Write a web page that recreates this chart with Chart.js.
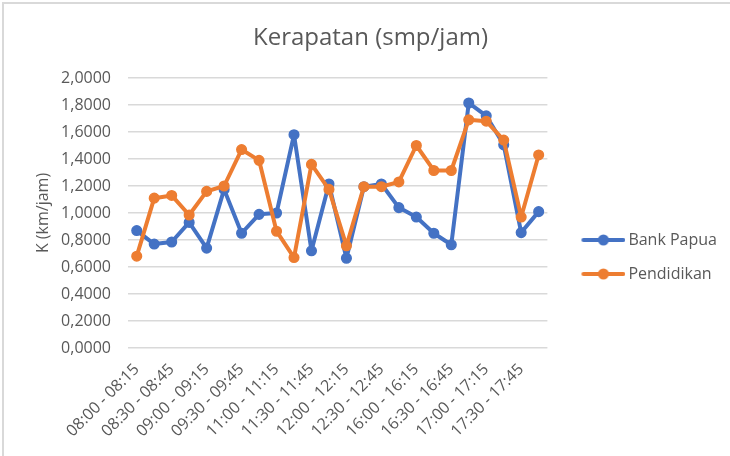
<!DOCTYPE html>
<html>
<head>
<meta charset="utf-8">
<script src="https://cdn.jsdelivr.net/npm/chart.js@4/dist/chart.umd.min.js"></script>
<style>
  html, body { margin: 0; padding: 0; background: #ffffff; }
  #wrap { position: relative; width: 730px; height: 456px; background: #ffffff; }
  #frame { position: absolute; left: 2px; top: 2px; right: -10px; bottom: -10px;
           border-left: 2px solid #d9d9d9; border-top: 2px solid #d9d9d9; pointer-events: none; }
  canvas { position: absolute; left: 0; top: 0; }
</style>
</head>
<body>
<div id="wrap">
  <canvas id="c" width="730" height="456"></canvas>
  <div id="frame"></div>
</div>
<script>
const categories = [
  '08:00 - 08:15', '08:15 - 08:30', '08:30 - 08:45', '08:45 - 09:00',
  '09:00 - 09:15', '09:15 - 09:30', '09:30 - 09:45', '09:45 - 10:00',
  '11:00 - 11:15', '11:15 - 11:30', '11:30 - 11:45', '11:45 - 12:00',
  '12:00 - 12:15', '12:15 - 12:30', '12:30 - 12:45', '12:45 - 13:00',
  '16:00 - 16:15', '16:15 - 16:30', '16:30 - 16:45', '16:45 - 17:00',
  '17:00 - 17:15', '17:15 - 17:30', '17:30 - 17:45', '17:45 - 18:00'
];
const bankPapua = [0.87, 0.77, 0.785, 0.93, 0.74, 1.175, 0.85, 0.99, 1.00, 1.58, 0.72, 1.215,
                   0.665, 1.195, 1.215, 1.04, 0.97, 0.85, 0.765, 1.815, 1.72, 1.505, 0.855, 1.01];
const pendidikan = [0.68, 1.11, 1.13, 0.985, 1.16, 1.20, 1.47, 1.39, 0.865, 0.67, 1.36, 1.175,
                    0.757, 1.195, 1.195, 1.23, 1.50, 1.315, 1.315, 1.69, 1.68, 1.54, 0.97, 1.43];
const seriesNames = ['Bank Papua', 'Pendidikan'];
const seriesColors = ['#4472C4', '#ED7D31'];
const yTickValues = [0, 0.2, 0.4, 0.6, 0.8, 1.0, 1.2, 1.4, 1.6, 1.8, 2.0];

const TEXT = '#595959';
const FONT = "'Open Sans', 'Noto Sans', sans-serif";

function legendSymbol(color) {
  const c = document.createElement('canvas');
  c.width = 54; c.height = 12;
  const g = c.getContext('2d');
  g.strokeStyle = color; g.lineWidth = 4; g.lineCap = 'round';
  g.beginPath(); g.moveTo(12, 6); g.lineTo(52, 6); g.stroke();
  g.fillStyle = color;
  g.beginPath(); g.arc(32, 6, 5.5, 0, Math.PI * 2); g.fill();
  return c;
}
const symbols = seriesColors.map(legendSymbol);

const chart = new Chart(document.getElementById('c'), {
  type: 'line',
  data: {
    labels: categories,
    datasets: [
      { label: seriesNames[0], data: bankPapua, borderColor: seriesColors[0], backgroundColor: seriesColors[0],
        pointBackgroundColor: seriesColors[0], pointBorderColor: seriesColors[0], order: 1 },
      { label: seriesNames[1], data: pendidikan, borderColor: seriesColors[1], backgroundColor: seriesColors[1],
        pointBackgroundColor: seriesColors[1], pointBorderColor: seriesColors[1], order: 0 }
    ]
  },
  options: {
    responsive: false,
    animation: false,
    devicePixelRatio: 1,
    layout: { padding: { left: 14, right: 3, top: 0, bottom: 0 } },
    elements: {
      line: { borderWidth: 4, tension: 0, borderJoinStyle: 'round', borderCapStyle: 'round' },
      point: { radius: 4.8, borderWidth: 1.5, hoverRadius: 4.8 }
    },
    plugins: {
      tooltip: { enabled: false },
      title: {
        display: true,
        text: 'Kerapatan (smp/jam)',
        color: TEXT,
        font: { family: FONT, size: 24, weight: 'normal' },
        padding: { top: 23.6, bottom: 25.6 }
      },
      legend: {
        position: 'right',
        align: 'center',
        title: { display: true, text: '', padding: { top: 0, bottom: 38.8 }, font: { size: 16 } },
        labels: {
          usePointStyle: true,
          pointStyleWidth: 44,
          padding: 18,
          color: TEXT,
          font: { family: FONT, size: 16 },
          generateLabels: (ch) => ch.data.datasets.map((ds, i) => ({
            text: ds.label,
            pointStyle: symbols[i],
            fillStyle: ds.borderColor,
            strokeStyle: ds.borderColor,
            fontColor: TEXT,
            lineWidth: 0,
            hidden: false,
            datasetIndex: i
          }))
        }
      }
    },
    scales: {
      x: {
        type: 'category',
        offset: true,
        grid: { display: false },
        border: { display: false },
        ticks: {
          autoSkip: false,
          minRotation: 45,
          maxRotation: 45,
          padding: 4,
          color: TEXT,
          font: { family: FONT, size: 16 },
          callback: (value, index) => (index % 2 === 0 ? categories[index] : '')
        },
        afterFit: (s) => { s.height = 108; }
      },
      y: {
        min: 0,
        max: 2,
        afterBuildTicks: (s) => { s.ticks = yTickValues.map(v => ({ value: v })); },
        grid: { color: '#d9d9d9', lineWidth: 1.5, drawTicks: false },
        border: { display: false },
        ticks: {
          padding: 17,
          color: TEXT,
          font: { family: FONT, size: 16 },
          callback: (v) => Number(v).toFixed(4).replace('.', ',')
        },
        title: {
          display: true,
          text: 'K (km/jam)',
          color: TEXT,
          font: { family: FONT, size: 16 },
          padding: { top: 19.4, bottom: 0 }
        },
        afterFit: (s) => { s.width = 114; }
      },
      gap: {
        type: 'linear',
        position: 'right',
        display: false,
        afterFit: (s) => { s.width = 11; }
      }
    }
  }
});
</script>
</body>
</html>
